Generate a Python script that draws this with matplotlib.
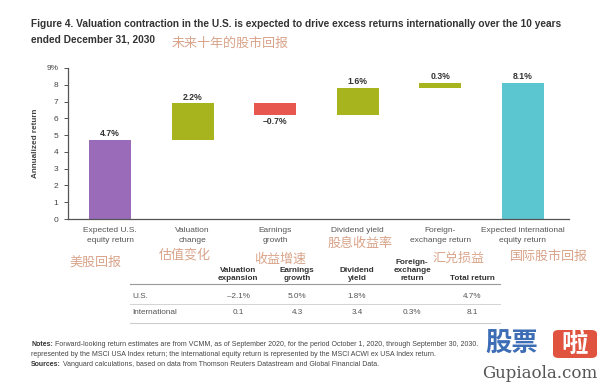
import matplotlib
matplotlib.use("Agg")
import matplotlib.pyplot as plt
import numpy as np
from matplotlib.patches import FancyBboxPatch

plt.rcParams['font.family'] = ['Liberation Sans', 'Noto Sans CJK SC', 'DejaVu Sans']

# ---------------- data ----------------
categories = ["Expected U.S.\nequity return", "Valuation\nchange", "Earnings\ngrowth",
              "Dividend yield", "Foreign-\nexchange return", "Expected international\nequity return"]
changes = [4.7, 2.2, -0.7, 1.6, 0.3, 8.1]
is_total = [True, False, False, False, False, True]
value_labels = ["4.7%", "2.2%", "\u20130.7%", "1.6%", "0.3%", "8.1%"]
bar_colors = ["#9A6BB8", "#A8B41E", "#E8574E", "#A8B41E", "#A8B41E", "#5BC5D0"]
cn_labels = ["美股回报", "估值变化", "收益增速", "股息收益率", "汇兑损益", "国际股市回报"]
yticks = [0, 1, 2, 3, 4, 5, 6, 7, 8, 9]
ytick_labels = ["0", "1", "2", "3", "4", "5", "6", "7", "8", "9%"]

table_cols = ["Valuation\nexpansion", "Earnings\ngrowth", "Dividend\nyield",
              "Foreign-\nexchange\nreturn", "Total return"]
table_rows = ["U.S.", "International"]
us_values = ["\u20132.1%", "5.0%", "1.8%", "", "4.7%"]
intl_values = ["0.1", "4.3", "3.4", "0.3%", "8.1"]

title_line1 = ("Figure 4. Valuation contraction in the U.S. is expected to drive excess returns "
               "internationally over the 10 years")
title_line2 = "ended December 31, 2030"
title_cn = "未来十年的股市回报"

notes_lines = [
    ("Notes:", " Forward-looking return estimates are from VCMM, as of September 2020, "
               "for the period October 1, 2020, through September 30, 2030."),
    ("", "represented by the MSCI USA Index return; the international equity return is "
         "represented by the MSCI ACWI ex USA Index return."),
    ("Sources:", " Vanguard calculations, based on data from Thomson Reuters "
                 "Datastream and Global Financial Data."),
]

W, H = 600, 386
fig = plt.figure(figsize=(6, 3.86), dpi=100)
fig.patch.set_facecolor("white")
CN = ["Noto Sans CJK SC", "DejaVu Sans"]
CN_COLOR = "#D9A48A"


def fx(px):
    return px / W


def fy(py):
    return 1 - py / H


# ---------------- main axes ----------------
ax = fig.add_axes([fx(68), fy(219), fx(569) - fx(68), fy(68) - fy(219)])
x = np.arange(len(categories))
bottoms = []
running = 0.0
for v, tot in zip(changes, is_total):
    if tot:
        bottoms.append(0.0)
        running = v
    else:
        bottoms.append(running if v >= 0 else running + v)
        running += v
heights = [abs(v) for v in changes]
ax.bar(x, heights, bottom=bottoms, width=0.51, color=bar_colors, zorder=2)

for xi, b, h, v, lab in zip(x, bottoms, heights, changes, value_labels):
    if v >= 0:
        ax.text(xi, b + h + 0.1, lab, ha="center", va="bottom", fontsize=6.2,
                fontweight="bold", color="#333333")
    else:
        ax.text(xi, b - 0.1, lab, ha="center", va="top", fontsize=6.2,
                fontweight="bold", color="#333333")

ax.set_xlim(-0.51, 5.56)
ax.set_ylim(0, 9)
ax.set_yticks(yticks)
ax.set_yticklabels(ytick_labels, fontsize=6, color="#444444")
ax.set_xticks(x)
ax.set_xticklabels(categories, fontsize=6, color="#555555")
for lbl in ax.get_xticklabels():
    lbl.set_linespacing(1.45)
ax.tick_params(axis="x", length=0, pad=6)
ax.tick_params(axis="y", length=3, width=0.7, color="#555555", pad=4)
for s in ["top", "right"]:
    ax.spines[s].set_visible(False)
for s in ["left", "bottom"]:
    ax.spines[s].set_color("#555555")
    ax.spines[s].set_linewidth(0.9)
ax.set_ylabel("Annualized return", fontsize=5.9, fontweight="bold", color="#444444",
              labelpad=5)

# ---------------- title ----------------
fig.text(fx(31), fy(24), title_line1, ha="left", va="center", fontsize=7.3,
         fontweight="bold", color="#333333")
fig.text(fx(31), fy(39), title_line2, ha="left", va="center", fontsize=7.3,
         fontweight="bold", color="#333333")
fig.text(fx(172), fy(43), title_cn, ha="left", va="center", fontsize=9.4,
         color=CN_COLOR, family=CN)

# ---------------- Chinese annotations ----------------
cn_pos = [(95, 262), (185, 255), (280, 259), (360, 243), (458, 258), (549, 256)]
for lab, (px, py) in zip(cn_labels, cn_pos):
    fig.text(fx(px), fy(py), lab, ha="center", va="center", fontsize=9.4,
             color=CN_COLOR, family=CN)

# ---------------- table ----------------
col_x = [238, 297, 357, 412, 472]
for cx, lab in zip(col_x, table_cols):
    fig.text(fx(cx), fy(282), lab, ha="center", va="bottom", fontsize=5.9,
             fontweight="bold", color="#333333", linespacing=1.15)
row_y = [297, 313]
for ry, rname, vals in zip(row_y, table_rows, [us_values, intl_values]):
    fig.text(fx(132), fy(ry), rname, ha="left", va="center", fontsize=5.9, color="#555555")
    for cx, v in zip(col_x, vals):
        fig.text(fx(cx), fy(ry), v, ha="center", va="center", fontsize=5.9, color="#555555")
for ly, lw, col in [(284, 0.8, "#999999"), (304, 0.6, "#cccccc"), (323, 0.8, "#cccccc")]:
    fig.add_artist(plt.Line2D([fx(130), fx(500)], [fy(ly), fy(ly)], color=col, lw=lw))

# ---------------- notes ----------------
fig.canvas.draw()
renderer = fig.canvas.get_renderer()
for (bold, rest), ny in zip(notes_lines, [344, 354, 364]):
    x0 = fx(31)
    if bold:
        t = fig.text(x0, fy(ny), bold, ha="left", va="center", fontsize=5.05,
                     fontweight="bold", color="#333333")
        bb = t.get_window_extent(renderer=renderer)
        x0 = bb.x1 / fig.bbox.width
    fig.text(x0, fy(ny), rest, ha="left", va="center", fontsize=5.05, color="#444444")

# ---------------- watermark ----------------
fig.text(fx(512), fy(344), "股票", ha="center", va="center", fontsize=19,
         fontweight="bold", color="#3D6DB5", family=CN)
box = FancyBboxPatch((fx(553), fy(358)), fx(597) - fx(553), fy(330) - fy(358),
                     boxstyle="round,pad=0,rounding_size=0.01", transform=fig.transFigure,
                     facecolor="#E0533F", edgecolor="none")
fig.add_artist(box)
fig.text(fx(575), fy(344), "啦", ha="center", va="center", fontsize=19,
         fontweight="bold", color="white", family=CN)
fig.text(fx(540), fy(374), "Gupiaola.com", ha="center", va="center", fontsize=12,
         color="#555555", family=["DejaVu Serif"])

fig.savefig("out.png", dpi=100)
